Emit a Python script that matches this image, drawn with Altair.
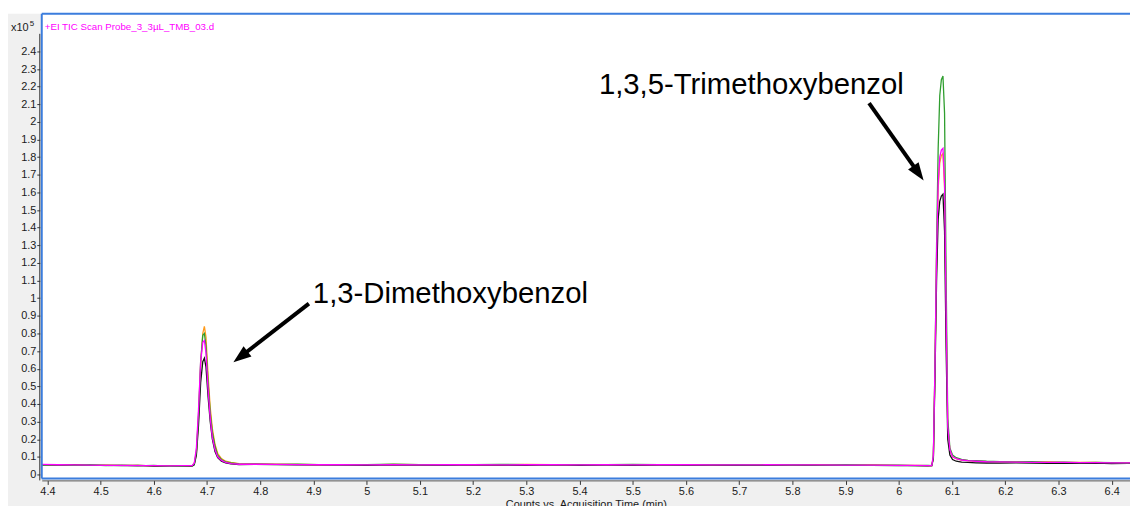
import altair as alt
import pandas as pd

# ---------------- data ----------------
TIME = [4.39, 4.42, 4.45, 4.48, 4.51, 4.54, 4.57, 4.60, 4.63, 4.655, 4.668,
        4.672, 4.676, 4.680, 4.684, 4.688, 4.692, 4.695, 4.698, 4.702, 4.706, 4.710, 4.715, 4.720, 4.727, 4.735, 4.745, 4.76,
        4.79, 4.83, 4.87, 4.91, 4.95, 5.00, 5.05, 5.10, 5.15, 5.20, 5.25, 5.30, 5.35, 5.40, 5.45, 5.50, 5.55, 5.60, 5.65, 5.70,
        5.75, 5.80, 5.85, 5.90, 5.95, 6.00, 6.03, 6.055,
        6.062, 6.065, 6.068, 6.071, 6.074, 6.077, 6.080, 6.083, 6.086, 6.089, 6.092, 6.096, 6.101, 6.108, 6.118, 6.13, 6.145, 6.165,
        6.19, 6.22, 6.25, 6.28, 6.31, 6.34, 6.37, 6.40, 6.43, 6.45]

ORANGE = [0.056, 0.054, 0.055, 0.052, 0.053, 0.051, 0.052, 0.049, 0.048, 0.050, 0.049,
          0.050, 0.060, 0.12, 0.32, 0.62, 0.80, 0.84, 0.78, 0.56, 0.38, 0.26, 0.17, 0.12, 0.09, 0.075, 0.068, 0.062,
          0.060, 0.058, 0.057, 0.055, 0.056, 0.054, 0.057, 0.055, 0.056, 0.054, 0.055, 0.057, 0.055, 0.054, 0.056, 0.055, 0.054, 0.056, 0.055, 0.053,
          0.055, 0.054, 0.055, 0.053, 0.054, 0.052, 0.051, 0.050,
          0.050, 0.10, 0.60, 1.22, 1.62, 1.77, 1.81, 1.82, 1.63, 0.88, 0.27, 0.14, 0.10, 0.090, 0.082, 0.078, 0.075, 0.073,
          0.072, 0.071, 0.070, 0.071, 0.069, 0.068, 0.068, 0.066, 0.067, 0.066]

GREEN = [0.053, 0.056, 0.052, 0.055, 0.050, 0.053, 0.049, 0.051, 0.046, 0.048, 0.050,
         0.050, 0.060, 0.13, 0.34, 0.64, 0.79, 0.80, 0.73, 0.52, 0.35, 0.24, 0.16, 0.11, 0.085, 0.072, 0.066, 0.060,
         0.059, 0.057, 0.058, 0.056, 0.055, 0.056, 0.058, 0.056, 0.054, 0.056, 0.057, 0.056, 0.054, 0.056, 0.055, 0.057, 0.055, 0.054, 0.056, 0.055,
         0.054, 0.056, 0.053, 0.055, 0.052, 0.053, 0.050, 0.051,
         0.050, 0.10, 0.62, 1.30, 1.85, 2.15, 2.24, 2.26, 2.05, 1.10, 0.32, 0.15, 0.11, 0.095, 0.085, 0.080, 0.078, 0.075,
         0.073, 0.071, 0.072, 0.069, 0.070, 0.067, 0.068, 0.067, 0.065, 0.066]

BLACK = [0.055, 0.053, 0.054, 0.051, 0.052, 0.050, 0.051, 0.048, 0.047, 0.049, 0.048,
         0.048, 0.055, 0.11, 0.28, 0.52, 0.64, 0.66, 0.61, 0.44, 0.30, 0.20, 0.13, 0.095, 0.075, 0.065, 0.060, 0.056,
         0.057, 0.056, 0.055, 0.054, 0.053, 0.052, 0.055, 0.053, 0.051, 0.054, 0.053, 0.052, 0.054, 0.052, 0.053, 0.051, 0.053, 0.052, 0.053, 0.051,
         0.052, 0.053, 0.051, 0.052, 0.051, 0.050, 0.050, 0.049,
         0.050, 0.09, 0.55, 1.10, 1.45, 1.55, 1.58, 1.59, 1.38, 0.70, 0.20, 0.11, 0.085, 0.075, 0.070, 0.068, 0.066, 0.065,
         0.064, 0.066, 0.064, 0.063, 0.065, 0.063, 0.064, 0.062, 0.063, 0.063]

MAGENTA = [0.057, 0.055, 0.054, 0.053, 0.052, 0.052, 0.050, 0.050, 0.049, 0.050, 0.050,
           0.050, 0.065, 0.15, 0.37, 0.64, 0.75, 0.76, 0.69, 0.48, 0.32, 0.21, 0.14, 0.10, 0.080, 0.068, 0.062, 0.058,
           0.058, 0.057, 0.056, 0.055, 0.055, 0.054, 0.055, 0.054, 0.055, 0.055, 0.054, 0.055, 0.055, 0.054, 0.055, 0.054, 0.055, 0.055, 0.054, 0.054,
           0.055, 0.054, 0.054, 0.053, 0.053, 0.052, 0.051, 0.050,
           0.050, 0.11, 0.62, 1.25, 1.65, 1.80, 1.84, 1.85, 1.65, 0.90, 0.27, 0.14, 0.10, 0.090, 0.082, 0.078, 0.075, 0.072,
           0.071, 0.070, 0.069, 0.069, 0.068, 0.067, 0.067, 0.066, 0.066, 0.065]

TRACES = [("orange", ORANGE, "#ff9a1a"), ("black", BLACK, "#111111"),
          ("green", GREEN, "#2f9e2f"), ("magenta", MAGENTA, "#ff00ff")]

X_TICKS = [4.4, 4.5, 4.6, 4.7, 4.8, 4.9, 5.0, 5.1, 5.2, 5.3, 5.4, 5.5, 5.6, 5.7, 5.8, 5.9, 6.0, 6.1, 6.2, 6.3, 6.4]
Y_TICKS = [0, 0.1, 0.2, 0.3, 0.4, 0.5, 0.6, 0.7, 0.8, 0.9, 1.0, 1.1, 1.2, 1.3, 1.4, 1.5, 1.6, 1.7, 1.8, 1.9,
           2.0, 2.1, 2.2, 2.3, 2.4]

LABELS = ["1,3-Dimethoxybenzol", "1,3,5-Trimethoxybenzol"]
LABEL_X = [4.8989, 5.4364]
LABEL_Y = [0.9746, 2.158]
ARROW_X = [4.8914, 5.9441]      # arrow tails
ARROW_Y = [0.969, 2.107]
HEAD_X = [4.7628, 6.0370]       # arrow heads
HEAD_Y = [0.6676, 1.7093]
HEAD_ANGLE = [232.2, 144.8]

TITLE = "+EI TIC Scan Probe_3_3µL_TMB_03.d"
X_TITLE = "Counts vs. Acquisition Time (min)"

# ---------------- chart ----------------
FONT = "Liberation Sans"
W, H = 1096, 468
x_scale = alt.Scale(domain=[4.3894, 6.4345], nice=False, zero=False)
y_scale = alt.Scale(domain=[-0.0225, 2.614], nice=False, zero=False)

x_axis = alt.Axis(values=X_TICKS, format="~g", offset=2, domainColor="#555555", domainWidth=1,
                  tickColor="#333333", tickSize=4, labelFontSize=11, labelColor="#1a1a1a", labelFont=FONT,
                  labelPadding=1, grid=False, title=X_TITLE, titleFontSize=11, titleFontWeight="normal",
                  titleFont=FONT, titleColor="#1a1a1a", titlePadding=2, zindex=1,
                  labelFlush=False, labelOverlap=False)
y_axis = alt.Axis(values=Y_TICKS, format="~g", offset=2, domain=False, tickColor="#333333", tickSize=3,
                  labelFontSize=11, labelColor="#1a1a1a", labelFont=FONT, labelPadding=1, grid=False,
                  title=None, zindex=1, labelFlush=False, labelOverlap=False)


def X(f):
    return alt.X(f, type="quantitative", scale=x_scale, axis=x_axis)


def Y(f):
    return alt.Y(f, type="quantitative", scale=y_scale, axis=y_axis)


one = pd.DataFrame({"a": [0]})

gray = alt.Chart(one).mark_rect(color="#f0f0f0").encode(
    x=alt.value(-34), x2=alt.value(W), y=alt.value(0), y2=alt.value(H + 40))
white = alt.Chart(one).mark_rect(color="#ffffff").encode(
    x=alt.value(0), x2=alt.value(W), y=alt.value(0), y2=alt.value(H))

layers = [gray, white]
for name, vals, col in TRACES:
    d = pd.DataFrame({"t": TIME, "v": vals})
    layers.append(alt.Chart(d).mark_line(color=col, strokeWidth=1.3, clip=True).encode(x=X("t"), y=Y("v")))

arrows = pd.DataFrame({"x": ARROW_X, "y": ARROW_Y, "hx": HEAD_X, "hy": HEAD_Y, "ang": HEAD_ANGLE})
layers.append(alt.Chart(arrows).mark_rule(color="black", strokeWidth=4).encode(
    x=X("x"), y=Y("y"), x2="hx:Q", y2="hy:Q"))
layers.append(alt.Chart(arrows).mark_point(
    shape="M0,-1L0.72,1L-0.72,1Z", size=324, filled=True, color="black", opacity=1, strokeWidth=0).encode(
    x=X("hx"), y=Y("hy"), angle=alt.Angle("ang:Q", scale=None)))

labels = pd.DataFrame({"x": LABEL_X, "y": LABEL_Y, "txt": LABELS})
layers.append(alt.Chart(labels).mark_text(
    align="left", baseline="alphabetic", fontSize=29.5, font=FONT, color="#000000").encode(
    x=X("x"), y=Y("y"), text="txt:N"))

border = "#3b7ddd"
layers.append(alt.Chart(one).mark_rule(color=border, strokeWidth=2).encode(
    x=alt.value(0), y=alt.value(0), y2=alt.value(H)))
layers.append(alt.Chart(one).mark_rule(color=border, strokeWidth=2).encode(
    x=alt.value(0), x2=alt.value(W), y=alt.value(0)))
layers.append(alt.Chart(one).mark_rule(color=border, strokeWidth=2).encode(
    x=alt.value(0), x2=alt.value(W), y=alt.value(H)))

ydom = pd.DataFrame({"y0": [2.5]})
layers.append(alt.Chart(ydom).mark_rule(color="#333333", strokeWidth=1).encode(
    x=alt.value(-2), y=Y("y0"), y2=alt.value(H + 2)))

layers.append(alt.Chart(one).mark_text(align="left", baseline="middle", fontSize=11, font=FONT,
                                       color="#1a1a1a", text="x10").encode(x=alt.value(-31), y=alt.value(14)))
layers.append(alt.Chart(one).mark_text(align="left", baseline="middle", fontSize=8, font=FONT,
                                       color="#1a1a1a", text="5").encode(x=alt.value(-12), y=alt.value(10)))
layers.append(alt.Chart(one).mark_text(align="left", baseline="middle", fontSize=9.8, font=FONT,
                                       color="#ff00ff", text=TITLE).encode(x=alt.value(3), y=alt.value(13)))

chart = alt.layer(*layers).properties(
    width=W, height=H,
    autosize=alt.AutoSizeParams(type="none"),
    padding={"left": 34, "top": 4, "right": 0, "bottom": 26},
    background="#ffffff",
).configure_view(stroke=None)

chart.save("out.html", embed_options={"renderer": "svg", "actions": False})
